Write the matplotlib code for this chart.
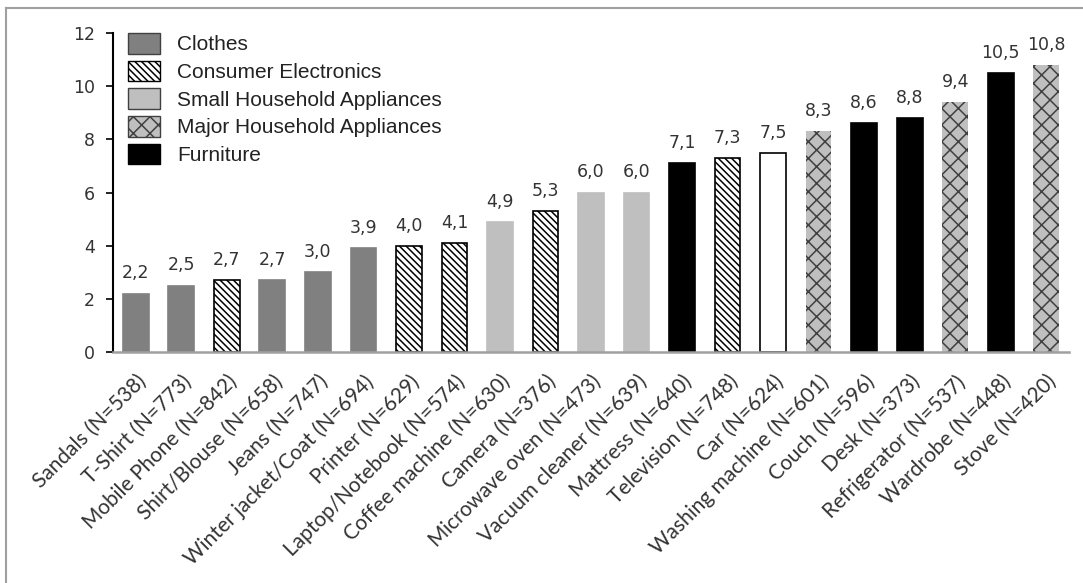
import matplotlib.pyplot as plt
from matplotlib.lines import Line2D
from matplotlib.patches import Patch
from matplotlib.transforms import ScaledTranslation

# Data
labels = ['Sandals (N=538)', 'T-Shirt (N=773)', 'Mobile Phone (N=842)', 'Shirt/Blouse (N=658)',
          'Jeans (N=747)', 'Winter jacket/Coat (N=694)', 'Printer (N=629)', 'Laptop/Notebook (N=574)',
          'Coffee machine (N=630)', 'Camera (N=376)', 'Microwave oven (N=473)', 'Vacuum cleaner (N=639)',
          'Mattress (N=640)', 'Television (N=748)', 'Car (N=624)', 'Washing machine (N=601)',
          'Couch (N=596)', 'Desk (N=373)', 'Refrigerator (N=537)', 'Wardrobe (N=448)', 'Stove (N=420)']
values = [2.2, 2.5, 2.7, 2.7, 3.0, 3.9, 4.0, 4.1, 4.9, 5.3, 6.0, 6.0, 7.1, 7.3, 7.5, 8.3,
          8.6, 8.8, 9.4, 10.5, 10.8]
groups = ['clo', 'clo', 'ce', 'clo', 'clo', 'clo', 'ce', 'ce', 'sha', 'ce', 'sha', 'sha',
          'fur', 'ce', 'car', 'mha', 'fur', 'fur', 'mha', 'fur', 'mha']
legend_names = ['Clothes', 'Consumer Electronics', 'Small Household Appliances',
                'Major Household Appliances', 'Furniture']

# fill, edge, hatch
styles = {
    'clo': ('#808080', '#808080', None),
    'ce': ('white', 'black', '\\\\\\\\\\'),
    'sha': ('#bfbfbf', '#bfbfbf', None),
    'mha': ('#bfbfbf', '#404040', 'xx'),
    'fur': ('black', 'black', None),
    'car': ('white', 'black', None),
}

plt.rcParams['hatch.linewidth'] = 1.1
fig = plt.figure(figsize=(10.83, 5.83), dpi=100)
ax = fig.add_axes([113 / 1083, 1 - 352 / 583, 956 / 1083, 319 / 583])

x = range(len(values))
for i, (v, g) in enumerate(zip(values, groups)):
    fc, ec, h = styles[g]
    lw = 0 if g == 'mha' else 1.2
    ax.bar(i, v, width=0.565, color=fc, edgecolor=ec, hatch=h, linewidth=lw)
    ax.annotate(f'{v:.1f}'.replace('.', ','), (i, v), xytext=(0, 8), textcoords='offset points',
                ha='center', va='bottom', fontsize=12.5, family='DejaVu Sans', color='#333333')

ax.set_xlim(-0.5, len(values) - 0.5)
ax.set_ylim(0, 12)
ax.set_yticks([0, 2, 4, 6, 8, 10, 12])
ax.tick_params(axis='y', direction='out', length=5, width=1.2, labelsize=12.5, pad=8,
               labelcolor='#333333')
ax.tick_params(axis='x', length=0, pad=14)
ax.set_xticks(list(x))
ax.set_xticklabels(labels, rotation=45, ha='right', rotation_mode='anchor',
                   fontsize=15, family='Lato', color='#333333')
shift = ScaledTranslation(0, 0, fig.dpi_scale_trans)
for lab in ax.get_xticklabels():
    lab.set_transform(lab.get_transform() + shift)
for lab in ax.get_yticklabels():
    lab.set_family('DejaVu Sans')
ax.spines['top'].set_visible(False)
ax.spines['right'].set_visible(False)
ax.spines['bottom'].set_color('#a0a0a0')
ax.spines['bottom'].set_linewidth(1.8)
ax.spines['left'].set_linewidth(1.5)

handles = []
for key in ['clo', 'ce', 'sha', 'mha', 'fur']:
    fc, ec, h = styles[key]
    if key in ('clo', 'sha'):
        ec = '#404040'
    handles.append(Patch(facecolor=fc, edgecolor=ec, hatch=h, linewidth=1))
leg = ax.legend(handles, legend_names, loc='upper left', bbox_to_anchor=(0.0157, 1.0),
                frameon=False, handlelength=1.55, handleheight=1.15, handletextpad=0.8,
                labelspacing=0.3, borderaxespad=0, borderpad=0,
                prop={'family': 'Liberation Sans', 'size': 15})
for t in leg.get_texts():
    t.set_color('#222222')

# outer frame (top and left edges only visible)
fig.add_artist(Line2D([6 / 1083, 6 / 1083], [0, 1 - 8 / 583], color='#a0a0a0', lw=1.5))
fig.add_artist(Line2D([6 / 1083, 1], [1 - 8 / 583, 1 - 8 / 583], color='#a0a0a0', lw=1.5))

fig.savefig('out.png', dpi=100)
